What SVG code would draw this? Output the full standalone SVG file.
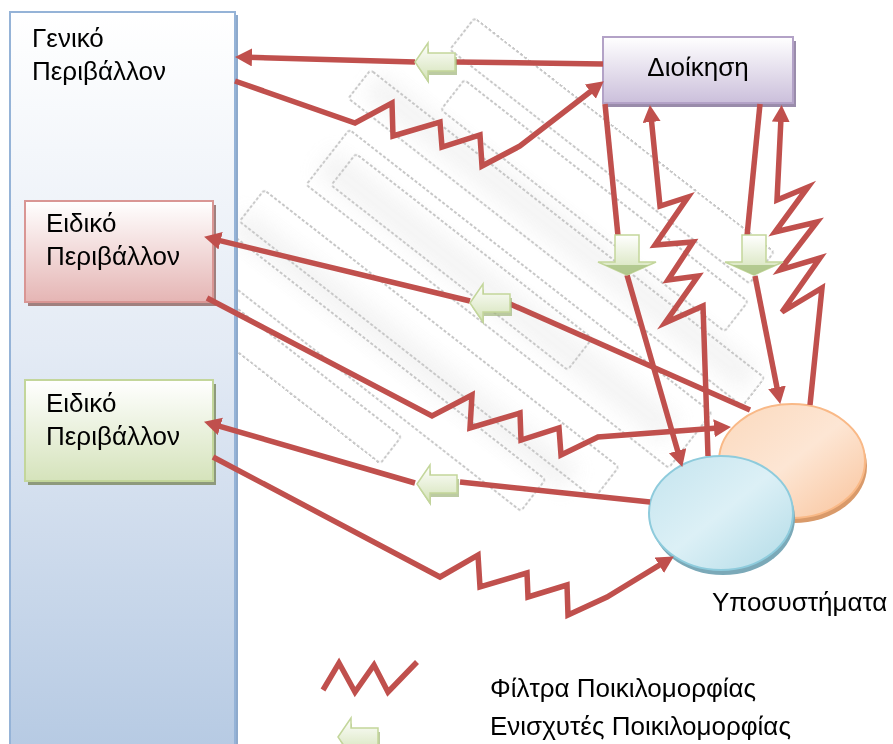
<svg xmlns="http://www.w3.org/2000/svg" width="893" height="744" viewBox="0 0 893 744">
  <defs>
    <linearGradient id="gEnv" x1="0" y1="0" x2="0" y2="1">
      <stop offset="0" stop-color="#ffffff"/>
      <stop offset="0.45" stop-color="#e4ebf5"/>
      <stop offset="1" stop-color="#b6cae3"/>
    </linearGradient>
    <linearGradient id="gPurple" x1="0" y1="0" x2="0" y2="1">
      <stop offset="0" stop-color="#ffffff"/>
      <stop offset="1" stop-color="#cbbfdb"/>
    </linearGradient>
    <linearGradient id="gRed" x1="0" y1="0" x2="0" y2="1">
      <stop offset="0" stop-color="#ffffff"/>
      <stop offset="1" stop-color="#e5b5b4"/>
    </linearGradient>
    <linearGradient id="gGreen" x1="0" y1="0" x2="0" y2="1">
      <stop offset="0" stop-color="#ffffff"/>
      <stop offset="1" stop-color="#d5e3bb"/>
    </linearGradient>
    <linearGradient id="gEnh" x1="0" y1="0" x2="0" y2="1">
      <stop offset="0" stop-color="#ffffff"/>
      <stop offset="1" stop-color="#d3e2b6"/>
    </linearGradient>
    <linearGradient id="gOrange" x1="0" y1="0" x2="1" y2="1">
      <stop offset="0" stop-color="#fbd9bd"/>
      <stop offset="0.5" stop-color="#fde6d4"/>
      <stop offset="1" stop-color="#f9c39b"/>
    </linearGradient>
    <linearGradient id="gBlue" x1="0" y1="0" x2="1" y2="1">
      <stop offset="0" stop-color="#c4e4ee"/>
      <stop offset="0.5" stop-color="#dcf0f6"/>
      <stop offset="1" stop-color="#b2dbe7"/>
    </linearGradient>
    <filter id="haze" x="-20%" y="-50%" width="140%" height="200%">
      <feGaussianBlur stdDeviation="10"/>
    </filter>
    <marker id="ah" markerWidth="20" markerHeight="20" refX="4" refY="9" orient="auto" markerUnits="userSpaceOnUse">
      <path d="M0,0 L17,9 L0,18 Z" fill="#c0504d"/>
    </marker>
    <!-- left-pointing enhancer arrow, tip at origin -->
    <g id="enhLeft">
      <path d="M2,4 L14,22 L14,13 L42,13 L42,-5 L14,-5 L14,-14 Z" fill="#9fb57a" opacity="0.7"/>
      <path d="M0,0 L13,-19 L13,-9 L40,-9 L40,9 L13,9 L13,19 Z" fill="url(#gEnh)" stroke="#c3d69b" stroke-width="1.5"/>
    </g>
    <!-- downward enhancer arrow, tip at origin -->
    <g id="enhDown">
      <path d="M0,0 L-29,-13 L-12,-13 L-12,-40 L12,-40 L12,-13 L29,-13 Z" fill="url(#gEnh)" stroke="#c3d69b" stroke-width="1.5"/>
      <path d="M0,0 L-22,-10 L22,-10 Z" fill="#a9c283" opacity="0.8"/>
    </g>
  </defs>
  <style>
    .lbl { font-family: "Liberation Sans", Arial, sans-serif; font-size: 26px; fill: #000; }
    .wire { fill: none; stroke: #c0504d; stroke-width: 5.5; stroke-linejoin: miter; stroke-linecap: butt; }
    .wm { fill: none; stroke: #b4b4b4; stroke-width: 2; stroke-dasharray: 3 2; }
    .wmh { fill: #dedede; filter: url(#haze); opacity: 0.45; }
  </style>

  <rect width="893" height="744" fill="#ffffff"/>

  <!-- faint background emblem -->
  <g id="watermark" opacity="0.75">
    <g transform="rotate(38 470 300)">
      <rect class="wmh" x="260" y="175" width="480" height="30"/>
      <rect class="wmh" x="270" y="265" width="440" height="30"/>
      <rect class="wmh" x="240" y="365" width="420" height="30"/>
      <rect class="wm" x="300" y="75" width="380" height="40" rx="3"/>
      <rect class="wm" x="330" y="130" width="360" height="38" rx="3"/>
      <rect class="wm" x="250" y="180" width="500" height="36" rx="3"/>
      <rect class="wm" x="270" y="240" width="460" height="70" rx="3"/>
      <rect class="wm" x="290" y="255" width="300" height="40" rx="3"/>
      <rect class="wm" x="240" y="340" width="450" height="40" rx="3"/>
      <rect class="wm" x="210" y="395" width="430" height="40" rx="3"/>
      <rect class="wm" x="200" y="450" width="300" height="34" rx="3"/>
    </g>
  </g>

  <!-- environment column -->
  <g id="env-general">
    <rect x="13" y="15" width="225" height="740" fill="#8eaacc"/>
    <rect x="10" y="12" width="225" height="740" fill="url(#gEnv)" stroke="#95b3d7" stroke-width="2"/>
    <text class="lbl" x="32" y="47">Γενικό</text>
    <text class="lbl" x="32" y="80">Περιβάλλον</text>
  </g>

  <g id="env-specific-1">
    <rect x="28" y="205" width="188" height="101" fill="#a0807f"/>
    <rect x="25" y="201" width="188" height="101" fill="url(#gRed)" stroke="#d99694" stroke-width="2"/>
    <text class="lbl" x="46" y="232">Ειδικό</text>
    <text class="lbl" x="46" y="265">Περιβάλλον</text>
  </g>

  <g id="env-specific-2">
    <rect x="28" y="384" width="188" height="101" fill="#8e9a7c"/>
    <rect x="25" y="380" width="188" height="101" fill="url(#gGreen)" stroke="#c3d69b" stroke-width="2"/>
    <text class="lbl" x="46" y="412">Ειδικό</text>
    <text class="lbl" x="46" y="445">Περιβάλλον</text>
  </g>

  <g id="management">
    <rect x="606" y="41" width="190" height="66" fill="#9a8cab"/>
    <rect x="603" y="37" width="190" height="66" fill="url(#gPurple)" stroke="#b3a2c7" stroke-width="2"/>
    <text class="lbl" x="698" y="76" text-anchor="middle">Διοίκηση</text>
  </g>

  <g id="subsystems">
    <ellipse cx="794" cy="466" rx="73" ry="57" fill="#d99a6a"/>
    <ellipse cx="792" cy="461" rx="73" ry="57" fill="url(#gOrange)" stroke="#f9b987" stroke-width="2"/>
    <ellipse cx="723" cy="518" rx="72" ry="57" fill="#7ba9b8"/>
    <ellipse cx="721" cy="513" rx="72" ry="57" fill="url(#gBlue)" stroke="#8ecbdc" stroke-width="2"/>
    <text class="lbl" x="712" y="611">Υποσυστήματα</text>
  </g>

  <!-- connectors -->
  <g id="connectors">
    <!-- management to general environment -->
    <path class="wire" d="M603,64 L455,62"/>
    <path class="wire" d="M415,62 L248,57.3" marker-end="url(#ah)"/>
    <!-- general environment to management (filtered) -->
    <path class="wire" d="M235,81 L355,123 L392,103 L393,136 L440,122 L442,147 L480,135 L482,166 L520,146 L593.5,89.3" marker-end="url(#ah)"/>
    <!-- subsystems to specific environment 1 -->
    <path class="wire" d="M750,410 L510,304"/>
    <path class="wire" d="M470,301 L216.7,239.8" marker-end="url(#ah)"/>
    <!-- specific environment 1 to subsystems (filtered) -->
    <path class="wire" d="M207,298 L432,416 L472,395 L470,428 L520,413 L521,440 L559,428 L561,455 L598,437 L718,428" marker-end="url(#ah)"/>
    <!-- subsystems to specific environment 2 -->
    <path class="wire" d="M650,502 L460,482"/>
    <path class="wire" d="M415,483 L216.5,425.3" marker-end="url(#ah)"/>
    <!-- specific environment 2 to subsystems (filtered) -->
    <path class="wire" d="M213,457 L440,577 L478,555 L480,587 L527,573 L528,597 L567,585 L568,615 L607,597 L662.7,563.2" marker-end="url(#ah)"/>
    <!-- management down to subsystems -->
    <path class="wire" d="M605,104 L618,236"/>
    <path class="wire" d="M627,275 L678.7,454.5" marker-end="url(#ah)"/>
    <path class="wire" d="M760,104 L747,236"/>
    <path class="wire" d="M755,276 L777.7,391.2" marker-end="url(#ah)"/>
    <!-- subsystems up to management (filtered) -->
    <path class="wire" d="M708,456 L703,306 L665,323 L698,276 L668,280 L693,242 L655,245 L688,197 L660,206 L651.2,118" marker-end="url(#ah)"/>
    <path class="wire" d="M810,405 L822,288 L782,312 L820,258 L780,270 L817,222 L775,232 L808,187 L777,200 L781,118" marker-end="url(#ah)"/>
    <!-- enhancers -->
    <use href="#enhLeft" x="415" y="62"/>
    <use href="#enhLeft" x="470" y="303"/>
    <use href="#enhLeft" x="417" y="484"/>
    <use href="#enhDown" x="627" y="275"/>
    <use href="#enhDown" x="754" y="275"/>
  </g>

  <!-- legend -->
  <g id="legend">
    <path class="wire" d="M323,690 L339,663 L355,692 L374,665 L388,692 L417,662"/>
    <use href="#enhLeft" x="338" y="737"/>
    <text class="lbl" x="490" y="697">Φίλτρα Ποικιλομορφίας</text>
    <text class="lbl" x="490" y="735">Ενισχυτές Ποικιλομορφίας</text>
  </g>
</svg>
